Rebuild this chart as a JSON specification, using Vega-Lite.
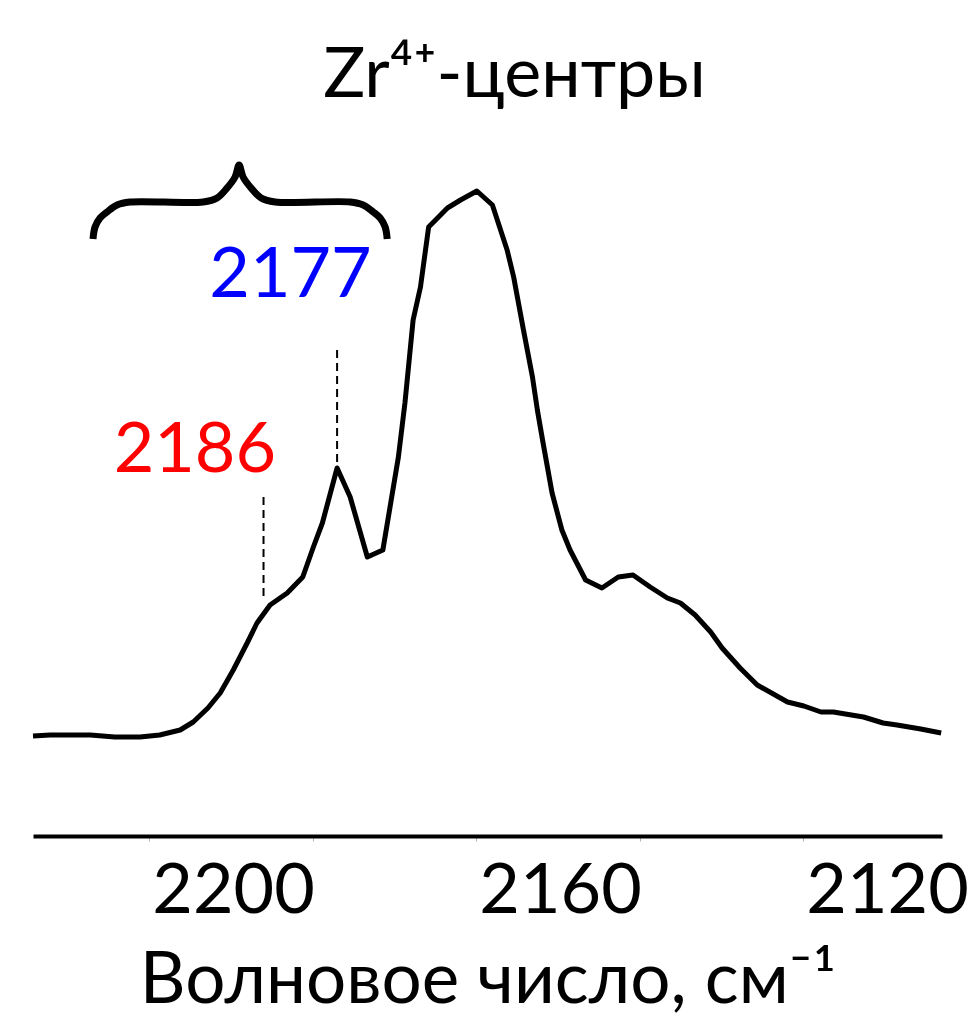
{
  "$schema": "https://vega.github.io/schema/vega-lite/v6.json",
  "width": 909,
  "height": 700,
  "autosize": {"type": "none"},
  "padding": {"left": 33, "top": 136, "right": 37, "bottom": 197},
  "background": "white",
  "config": {"view": {"stroke": null}, "font": "Lato"},
  "title": {"text": "Zr⁴⁺-центры", "font": "Lato", "fontSize": 70, "fontWeight": "normal", "color": "black", "anchor": "middle", "dx": 27, "offset": 24},
  "datasets": {
    "spectrum": [
      {"w": 2214.2, "a": 1.00}, {"w": 2212.1, "a": 1.01}, {"w": 2209.7, "a": 1.01}, {"w": 2207.2, "a": 1.01},
      {"w": 2204.2, "a": 0.99}, {"w": 2201.1, "a": 0.99}, {"w": 2198.7, "a": 1.01}, {"w": 2196.2, "a": 1.06},
      {"w": 2194.6, "a": 1.14}, {"w": 2192.8, "a": 1.28}, {"w": 2191.3, "a": 1.43}, {"w": 2189.7, "a": 1.66},
      {"w": 2188.0, "a": 1.93}, {"w": 2186.8, "a": 2.13}, {"w": 2185.2, "a": 2.31}, {"w": 2183.1, "a": 2.43},
      {"w": 2181.2, "a": 2.59}, {"w": 2179.9, "a": 2.89}, {"w": 2178.8, "a": 3.13}, {"w": 2177.0, "a": 3.68},
      {"w": 2175.4, "a": 3.39}, {"w": 2173.3, "a": 2.79}, {"w": 2171.4, "a": 2.86}, {"w": 2169.5, "a": 3.79},
      {"w": 2168.7, "a": 4.33}, {"w": 2167.7, "a": 5.16}, {"w": 2166.8, "a": 5.49}, {"w": 2165.8, "a": 6.09},
      {"w": 2163.5, "a": 6.28}, {"w": 2161.9, "a": 6.36}, {"w": 2159.9, "a": 6.45}, {"w": 2158.0, "a": 6.31},
      {"w": 2156.2, "a": 5.86}, {"w": 2155.4, "a": 5.59}, {"w": 2154.2, "a": 5.06}, {"w": 2153.1, "a": 4.59},
      {"w": 2152.5, "a": 4.26}, {"w": 2151.8, "a": 3.93}, {"w": 2150.7, "a": 3.43}, {"w": 2149.5, "a": 3.06},
      {"w": 2148.5, "a": 2.86}, {"w": 2146.6, "a": 2.56}, {"w": 2144.6, "a": 2.48}, {"w": 2142.6, "a": 2.59},
      {"w": 2140.8, "a": 2.61}, {"w": 2138.7, "a": 2.49}, {"w": 2136.6, "a": 2.38}, {"w": 2135.0, "a": 2.33},
      {"w": 2133.2, "a": 2.21}, {"w": 2131.3, "a": 2.04}, {"w": 2129.9, "a": 1.88}, {"w": 2127.7, "a": 1.68},
      {"w": 2125.6, "a": 1.51}, {"w": 2121.9, "a": 1.34}, {"w": 2119.9, "a": 1.30}, {"w": 2117.8, "a": 1.24},
      {"w": 2116.3, "a": 1.24}, {"w": 2112.6, "a": 1.19}, {"w": 2110.2, "a": 1.13}, {"w": 2108.5, "a": 1.11},
      {"w": 2105.6, "a": 1.07}, {"w": 2103.1, "a": 1.03}
    ],
    "brace": [
      {"w": 2206.86, "a": 5.97}, {"w": 2206.61, "a": 6.09}, {"w": 2206.0, "a": 6.18}, {"w": 2205.14, "a": 6.24},
      {"w": 2203.92, "a": 6.31}, {"w": 2202.33, "a": 6.34}, {"w": 2193.39, "a": 6.34}, {"w": 2191.68, "a": 6.38},
      {"w": 2190.46, "a": 6.48}, {"w": 2189.48, "a": 6.59}, {"w": 2188.99, "a": 6.71}, {"w": 2188.5, "a": 6.59},
      {"w": 2187.52, "a": 6.48}, {"w": 2186.29, "a": 6.38}, {"w": 2184.58, "a": 6.34}, {"w": 2175.4, "a": 6.34},
      {"w": 2173.81, "a": 6.31}, {"w": 2172.58, "a": 6.24}, {"w": 2171.73, "a": 6.18}, {"w": 2171.12, "a": 6.09},
      {"w": 2170.87, "a": 5.97}
    ],
    "markers": [
      {"w": 2177, "a": 4.86, "a2": 3.68},
      {"w": 2186, "a": 3.39, "a2": 2.36}
    ],
    "labels": [
      {"w": 2182.7, "a": 5.39, "label": "2177"},
      {"w": 2194.4, "a": 3.64, "label": "2186"}
    ]
  },
  "encoding": {
    "x": {
      "field": "w", "type": "quantitative",
      "scale": {"domain": [2103.0, 2214.2], "reverse": true, "nice": false, "zero": false},
      "axis": {
        "values": [2200, 2180, 2160, 2140, 2120],
        "format": "d",
        "labelExpr": "datum.value % 40 == 0 ? datum.label : ''",
        "labelFont": "Lato", "labelFontSize": 70, "labelColor": "black",
        "labelOffset": 84, "labelPadding": 16,
        "labelFlush": false, "labelOverlap": false, "labelBound": false,
        "domainColor": "black", "domainWidth": 4,
        "ticks": true, "tickSize": 5, "tickColor": "#b4b4b4", "tickWidth": 1,
        "grid": false,
        "title": "Волновое число, см⁻¹",
        "titleFont": "Lato", "titleFontSize": 71, "titleFontWeight": "normal", "titleColor": "black",
        "titlePadding": 20
      }
    },
    "y": {
      "field": "a", "type": "quantitative",
      "scale": {"domain": [0, 7], "nice": false, "zero": false},
      "axis": null
    }
  },
  "layer": [
    {
      "data": {"name": "spectrum"},
      "mark": {"type": "line", "color": "black", "strokeWidth": 5, "strokeJoin": "round"}
    },
    {
      "data": {"name": "brace"},
      "mark": {"type": "line", "color": "black", "strokeWidth": 7, "interpolate": "catmull-rom", "strokeCap": "butt"}
    },
    {
      "data": {"name": "markers"},
      "mark": {"type": "rule", "color": "black", "strokeWidth": 2, "strokeDash": [8, 5]},
      "encoding": {"y2": {"field": "a2"}}
    },
    {
      "data": {"name": "labels"},
      "mark": {"type": "text", "font": "Lato", "fontSize": 70, "align": "center", "baseline": "alphabetic"},
      "encoding": {
        "text": {"field": "label", "type": "nominal"},
        "color": {"field": "label", "type": "nominal", "scale": {"domain": ["2177", "2186"], "range": ["#0000ff", "#ff0000"]}, "legend": null}
      }
    }
  ]
}
